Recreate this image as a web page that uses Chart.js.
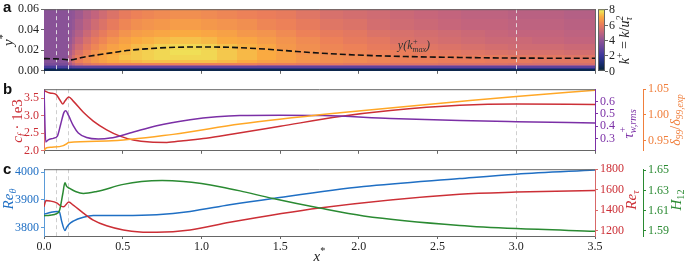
<!DOCTYPE html>
<html>
<head>
<meta charset="utf-8">
<script src="https://cdn.jsdelivr.net/npm/chart.js@4.4.1/dist/chart.umd.min.js"></script>
<style>
html, body { margin: 0; padding: 0; background: #fff; }
#wrap { position: relative; width: 685px; height: 263px; overflow: hidden; }
#wrap canvas { position: absolute; left: 0; }
.panel { position: absolute; left: 3px; font: bold 15px "Liberation Sans", Arial, sans-serif; color: #111; }
</style>
</head>
<body>
<div id="wrap">
  <canvas id="ca" width="685" height="80" style="top:0"></canvas>
  <canvas id="cb" width="685" height="80" style="top:80px"></canvas>
  <canvas id="cc" width="685" height="103" style="top:160px"></canvas>
  <div class="panel" style="top:-2px">a</div>
  <div class="panel" style="top:80px">b</div>
  <div class="panel" style="top:160px">c</div>
</div>
<script>
// ---- data ----
const xTicks = [0, 0.5, 1.0, 1.5, 2.0, 2.5, 3.0, 3.5];
const markers = [0.075, 0.155, 3.0];

// panel a: k+ field (cells), rows bottom -> top
const kxEdges = [0, 0.15, 0.175, 0.2, 0.25, 0.3, 0.35, 0.4, 0.475, 0.55, 0.625, 0.7, 0.8, 0.9, 1.0, 1.1,
                 1.225, 1.35, 1.475, 1.6, 1.75, 1.9, 2.05, 2.2, 2.35, 2.5, 2.65, 2.8, 2.95, 3.1, 3.3, 3.5];
const kyEdges = [0, 0.0015, 0.003, 0.0045, 0.006, 0.008, 0.011, 0.015, 0.02, 0.026, 0.033, 0.04, 0.05, 0.06];
const kField = [
  [0.4,0.4,0.4,0.4,0.4,0.4,0.4,0.4,0.4,0.4,0.4,0.4,0.4,0.4,0.4,0.4,0.4,0.4,0.4,0.4,0.4,0.4,0.4,0.4,0.4,0.4,0.4,0.4,0.4,0.4,0.4],
  [1.3,1.4,1.5,1.5,1.5,1.5,1.5,1.5,1.5,1.5,1.5,1.5,1.5,1.5,1.5,1.5,1.5,1.5,1.5,1.5,1.5,1.5,1.5,1.5,1.5,1.5,1.5,1.5,1.5,1.5,1.5],
  [2.3,2.5,2.7,2.8,2.8,2.8,2.8,2.8,2.8,2.8,2.8,2.8,2.8,2.8,2.8,2.8,2.8,2.8,2.8,2.8,2.8,2.8,2.8,2.8,2.8,2.8,2.8,2.8,2.8,2.8,2.8],
  [3.0,3.6,4.0,4.3,4.5,4.5,4.5,4.5,4.5,4.5,4.5,4.5,4.5,4.5,4.5,4.5,4.5,4.3,4.3,4.3,4.3,4.3,4.3,4.3,4.3,4.3,4.3,4.3,4.3,4.3,4.3],
  [3.4,4.4,5.0,5.4,5.7,5.9,6.0,6.1,6.1,6.1,6.1,6.1,6.1,6.1,6.1,6.1,6.1,6.0,6.0,5.9,5.9,5.8,5.8,5.7,5.7,5.6,5.6,5.6,5.5,5.5,5.5],
  [3.7,4.8,5.5,6.0,6.3,6.6,6.8,7.0,7.1,7.2,7.3,7.3,7.3,7.3,7.3,7.2,7.0,6.8,6.7,6.5,6.4,6.3,6.2,6.1,6.1,6.0,6.0,5.9,5.9,5.8,5.8],
  [3.8,4.7,5.4,5.9,6.3,6.6,6.9,7.1,7.3,7.4,7.5,7.6,7.6,7.6,7.6,7.4,7.2,7.0,6.8,6.6,6.4,6.3,6.2,6.1,6.0,6.0,5.9,5.9,5.8,5.8,5.7],
  [3.8,4.5,5.1,5.6,6.1,6.5,6.8,7.0,7.2,7.4,7.5,7.6,7.7,7.7,7.6,7.4,7.2,7.0,6.8,6.5,6.3,6.2,6.1,6.0,5.9,5.8,5.7,5.6,5.5,5.5,5.4],
  [3.8,4.3,4.8,5.3,5.8,6.2,6.5,6.8,7.0,7.2,7.3,7.5,7.6,7.6,7.5,7.3,7.1,6.9,6.6,6.4,6.2,6.1,5.9,5.8,5.7,5.6,5.5,5.4,5.3,5.3,5.2],
  [3.8,4.1,4.5,5.0,5.5,5.9,6.2,6.5,6.8,7.0,7.1,7.2,7.3,7.3,7.2,7.0,6.9,6.7,6.5,6.3,6.1,5.9,5.8,5.6,5.5,5.4,5.3,5.2,5.2,5.1,5.0],
  [3.8,4.0,4.3,4.7,5.2,5.6,5.9,6.2,6.5,6.7,6.8,6.9,7.0,7.0,6.9,6.8,6.6,6.5,6.3,6.1,5.9,5.8,5.6,5.5,5.4,5.3,5.2,5.1,5.0,5.0,4.9],
  [3.8,3.9,4.1,4.5,4.9,5.3,5.6,5.9,6.2,6.4,6.5,6.6,6.7,6.7,6.6,6.5,6.4,6.2,6.1,5.9,5.7,5.6,5.4,5.3,5.2,5.1,5.0,5.0,4.9,4.9,4.8],
  [3.8,3.9,4.0,4.3,4.7,5.0,5.3,5.6,5.9,6.1,6.2,6.3,6.4,6.4,6.3,6.2,6.1,6.0,5.9,5.7,5.5,5.4,5.3,5.2,5.1,5.0,4.9,4.9,4.8,4.8,4.7]
];
const kTicks = [0, 2, 4, 6, 8];
const yTicksA = [0, 0.02, 0.04, 0.06];
const kmaxX = [0, 0.04, 0.08, 0.12, 0.165, 0.25, 0.356, 0.45, 0.525, 0.65, 0.78, 0.99, 1.18, 1.4, 1.605, 1.8, 2.03, 2.3, 2.64, 3.0, 3.5];
const kmaxY = [0.0119, 0.0118, 0.0116, 0.0112, 0.0106, 0.0132, 0.0159, 0.018, 0.0197, 0.0214, 0.0226, 0.0232, 0.0229, 0.0212, 0.0188, 0.0168, 0.0151, 0.0139, 0.0130, 0.0124, 0.0122];

// panel b
const cfX = [0, 0.005, 0.038, 0.076, 0.10, 0.119, 0.133, 0.157, 0.186, 0.25, 0.313, 0.398, 0.483, 0.567, 0.673, 0.78, 0.885, 1.03, 1.2, 1.5, 1.88, 2.2, 2.64, 3.0, 3.5];
const cf  = [3.72, 3.71, 3.65, 3.61, 3.46, 3.34, 3.42, 3.54, 3.42, 3.10, 2.85, 2.60, 2.42, 2.31, 2.25, 2.24, 2.29, 2.36, 2.48, 2.70, 2.98, 3.15, 3.30, 3.34, 3.32];
const tauX = [0, 0.011, 0.027, 0.059, 0.085, 0.106, 0.127, 0.138, 0.155, 0.186, 0.218, 0.27, 0.345, 0.42, 0.546, 0.716, 0.928, 1.097, 1.245, 1.5, 1.77, 2.2, 2.64, 3.0, 3.5];
const tau  = [0.70, 0.272, 0.289, 0.301, 0.32, 0.416, 0.512, 0.525, 0.489, 0.404, 0.344, 0.308, 0.296, 0.303, 0.344, 0.404, 0.452, 0.476, 0.486, 0.488, 0.486, 0.462, 0.445, 0.436, 0.426];
const dX = [0, 0.017, 0.049, 0.123, 0.14, 0.157, 0.398, 0.82, 1.245, 1.88, 2.64, 3.0, 3.5];
const delta = [0.931, 0.936, 0.937, 0.940, 0.943, 0.946, 0.949, 0.962, 0.982, 1.004, 1.026, 1.036, 1.048];
const cfTicks = [2.0, 2.5, 3.0, 3.5];
const tauTicks = [0.3, 0.4, 0.5, 0.6];
const deltaTicks = [0.95, 1.00, 1.05];

// panel c
const rethX = [0, 0.038, 0.08, 0.097, 0.112, 0.133, 0.144, 0.157, 0.186, 0.25, 0.313, 0.504, 0.716, 0.928, 1.18, 1.455, 2.03, 2.64, 3.0, 3.5];
const reth  = [3848, 3854, 3858, 3857, 3823, 3789, 3800, 3811, 3823, 3837, 3843, 3843, 3846, 3858, 3882, 3905, 3948, 3977, 3993, 4008];
const retauX = [0, 0.013, 0.038, 0.08, 0.108, 0.125, 0.157, 0.186, 0.25, 0.313, 0.398, 0.504, 0.61, 0.716, 0.928, 1.18, 1.75, 2.64, 3.0, 3.5];
const retau  = [1435, 1496, 1491, 1472, 1441, 1435, 1481, 1450, 1373, 1305, 1249, 1209, 1190, 1187, 1209, 1283, 1422, 1556, 1577, 1593];
const h12X = [0, 0.038, 0.08, 0.10, 0.119, 0.133, 0.144, 0.163, 0.2, 0.25, 0.335, 0.504, 0.62, 0.75, 0.885, 1.0, 1.125, 1.245, 1.455, 1.75, 2.03, 2.64, 3.0, 3.5];
const h12  = [1.605, 1.6055, 1.607, 1.611, 1.6265, 1.6375, 1.634, 1.632, 1.629, 1.627, 1.629, 1.636, 1.6388, 1.6398, 1.6389, 1.6368, 1.6335, 1.6296, 1.622, 1.6126, 1.6048, 1.5954, 1.5923, 1.5897];
const rethTicks = [3800, 3850, 3900, 3950, 4000];
const retauTicks = [1200, 1400, 1600, 1800];
const h12Ticks = [1.59, 1.61, 1.63, 1.65];

// ---- styling ----
const SERIF = '"Liberation Serif", "DejaVu Serif", serif';
const RED = '#cc2f36', PURPLE = '#7b2fa6', ORANGE = '#ffa726', ORANGE_AX = '#f07f3c';
const BLUE = '#1f6fc4', GREEN = '#2a8a32', FRAME = '#666';

// thermal-like colour stops for k+ = 0..8
const cmap = [[4,35,51],[25,45,115],[60,55,155],[105,70,155],[145,85,150],[195,100,125],[235,125,90],[250,170,65],[235,245,95]];
function colorFor(v) {
  v = Math.max(0, Math.min(8, v));
  const i = Math.min(7, Math.floor(v)), f = v - i;
  const a = cmap[i], b = cmap[i + 1];
  return 'rgb(' + a.map((c, k) => Math.round(c + (b[k] - c) * f)).join(',') + ')';
}

const pts = (xs, ys) => xs.map((x, i) => ({x: x, y: ys[i]}));

function fixTicks(arr) { return s => { s.ticks = arr.map(v => ({value: v})); }; }

function xAxis(labels) {
  return {
    type: 'linear', min: 0, max: 3.5,
    afterBuildTicks: fixTicks(xTicks),
    afterFit: s => { s.height = labels ? 27 : 5; },
    grid: {drawOnChartArea: false, tickLength: 3, color: FRAME},
    border: {color: FRAME},
    ticks: {display: labels, color: '#222', padding: 1, font: {family: SERIF, size: 12},
            callback: v => v.toFixed(1), maxRotation: 0}
  };
}

function yAxis(pos, min, max, ticks, dec, col, spine, width, weight) {
  return {
    type: 'linear', position: pos, min: min, max: max, weight: weight || 0,
    afterBuildTicks: fixTicks(ticks),
    afterFit: s => { s.width = width; },
    grid: {drawOnChartArea: false, tickLength: 3, color: spine},
    border: {color: spine},
    ticks: {color: col, padding: 2, font: {family: SERIF, size: 12}, callback: v => v.toFixed(dec)}
  };
}

function line(xs, ys, color, axis, extra) {
  return Object.assign({data: pts(xs, ys), borderColor: color, borderWidth: 1.5, pointRadius: 0,
    cubicInterpolationMode: 'monotone', yAxisID: axis}, extra || {});
}

// rich text: parts of {t} or {sup, sub}, italic flag i
function rich(ctx, parts, x, y, rot, color, size) {
  ctx.save();
  ctx.translate(x, y);
  ctx.rotate(rot);
  ctx.fillStyle = color;
  ctx.textBaseline = 'middle';
  ctx.textAlign = 'left';
  const small = size * 0.68;
  const fnt = (it, s) => (it ? 'italic ' : '') + s + 'px ' + SERIF;
  let total = 0;
  const segs = parts.map(p => {
    let w = 0;
    if (p.t !== undefined) { ctx.font = fnt(p.i, size); w = ctx.measureText(p.t).width; }
    else {
      ctx.font = fnt(p.i, small);
      if (p.sup) w = Math.max(w, ctx.measureText(p.sup).width);
      if (p.sub) w = Math.max(w, ctx.measureText(p.sub).width);
    }
    total += w;
    return {p: p, w: w};
  });
  let cx = -total / 2;
  segs.forEach(s => {
    const p = s.p;
    if (p.t !== undefined) { ctx.font = fnt(p.i, size); ctx.fillText(p.t, cx, 0); }
    else {
      ctx.font = fnt(p.i, small);
      if (p.sup) ctx.fillText(p.sup, cx, -size * 0.35);
      if (p.sub) ctx.fillText(p.sub, cx, size * 0.3);
    }
    cx += s.w;
  });
  ctx.restore();
}

const UP = -Math.PI / 2;

// frame top line + dashed markers
const frameAndMarkers = {
  id: 'frameAndMarkers',
  beforeDatasetsDraw(chart, args, opts) {
    const {ctx, chartArea: a, scales: {x}} = chart;
    ctx.save();
    ctx.strokeStyle = opts.markerColor || '#cfcfcf';
    ctx.lineWidth = 1;
    ctx.setLineDash([4, 3]);
    markers.forEach(m => {
      const px = Math.round(x.getPixelForValue(m)) + 0.5;
      ctx.beginPath(); ctx.moveTo(px, a.top); ctx.lineTo(px, a.bottom); ctx.stroke();
    });
    ctx.restore();
  },
  afterDraw(chart) {
    const {ctx, chartArea: a} = chart;
    ctx.save();
    ctx.strokeStyle = FRAME; ctx.lineWidth = 1;
    ctx.beginPath(); ctx.moveTo(a.left, a.top + 0.5); ctx.lineTo(a.right, a.top + 0.5); ctx.stroke();
    ctx.restore();
  }
};

const heatmap = {
  id: 'heatmap',
  beforeDatasetsDraw(chart) {
    const {ctx, scales: {x, y}} = chart;
    ctx.save();
    kField.forEach((row, j) => {
      const y0 = Math.round(y.getPixelForValue(kyEdges[j]));
      const y1 = Math.round(y.getPixelForValue(kyEdges[j + 1]));
      row.forEach((v, i) => {
        const x0 = Math.round(x.getPixelForValue(kxEdges[i]));
        const x1 = Math.round(x.getPixelForValue(kxEdges[i + 1]));
        ctx.fillStyle = colorFor(v);
        ctx.fillRect(x0, y1, x1 - x0, y0 - y1);
      });
    });
    ctx.restore();
  },
  afterDraw(chart) {
    const {ctx, scales: {cbar}} = chart;
    const left = cbar.left + 3, w = 7;
    ctx.save();
    for (let p = Math.round(cbar.top); p < Math.round(cbar.bottom); p++) {
      ctx.fillStyle = colorFor(cbar.getValueForPixel(p + 0.5));
      ctx.fillRect(left, p, w, 1);
    }
    ctx.strokeStyle = FRAME; ctx.lineWidth = 1;
    ctx.strokeRect(left + 0.5, cbar.top + 0.5, w - 1, cbar.bottom - cbar.top - 1);
    ctx.fillStyle = '#222';
    ctx.font = '12px ' + SERIF;
    ctx.textBaseline = 'middle';
    kTicks.forEach(t => {
      const py = Math.round(cbar.getPixelForValue(t)) + 0.5;
      ctx.beginPath(); ctx.moveTo(left + w, py); ctx.lineTo(left + w + 3, py); ctx.stroke();
      ctx.fillText(String(t), left + w + 4, py);
    });
    rich(ctx, [{t: 'k', i: 1}, {sup: '+'}, {t: ' = '}, {t: 'k', i: 1}, {t: '/'}, {t: 'u', i: 1}, {sup: '2', sub: 'τ', i: 1}],
         cbar.left + 30, (cbar.top + cbar.bottom) / 2, UP, '#222', 14);
    rich(ctx, [{t: 'y', i: 1}, {sup: '*'}], 9, 40, UP, '#222', 15);
    rich(ctx, [{t: 'y(', i: 1}, {t: 'k', i: 1}, {sup: '+', sub: 'max', i: 1}, {t: ')', i: 1}],
         chart.scales.x.getPixelForValue(2.35), 46, 0, '#333', 12);
    ctx.restore();
  }
};

const titlesB = {
  id: 'titlesB',
  afterDraw(chart) {
    const {ctx, scales: {tau: t, del: d}} = chart;
    rich(ctx, [{t: 'c', i: 1}, {sub: 'f', i: 1}, {t: ' · 1e3'}], 18, 41, UP, RED, 15);
    rich(ctx, [{t: 'τ', i: 1}, {sup: '+', sub: 'w,rms', i: 1}], t.left + 34, 44, UP, PURPLE, 15);
    rich(ctx, [{t: 'δ', i: 1}, {sub: '99', i: 1}, {t: '/'}, {t: 'δ', i: 1}, {sub: '99,exp', i: 1}], d.left + 33, 40, UP, ORANGE_AX, 14);
  }
};

const titlesC = {
  id: 'titlesC',
  afterDraw(chart) {
    const {ctx, scales: {rt, h}} = chart;
    rich(ctx, [{t: 'Re', i: 1}, {sub: 'θ', i: 1}], 9, 39, UP, BLUE, 15);
    rich(ctx, [{t: 'Re', i: 1}, {sub: 'τ', i: 1}], rt.left + 37, 40, UP, RED, 15);
    rich(ctx, [{t: 'H', i: 1}, {sub: '12'}], h.left + 34, 40, UP, GREEN, 15);
    rich(ctx, [{t: 'x', i: 1}, {sup: '*'}], (chart.chartArea.left + chart.chartArea.right) / 2, 97, 0, '#222', 15);
  }
};

const base = {
  responsive: false, animation: false, devicePixelRatio: 1,
  layout: {padding: {top: 6, left: 0, right: 0, bottom: 0}},
  plugins: {legend: {display: false}, tooltip: {enabled: false}},
  elements: {line: {tension: 0}}
};

new Chart(document.getElementById('ca'), {
  type: 'line',
  data: {datasets: [line(kmaxX, kmaxY, '#111', 'y', {borderDash: [6, 3], borderWidth: 1.6})]},
  options: Object.assign({}, base, {
    plugins: Object.assign({}, base.plugins, {frameAndMarkers: {markerColor: 'rgba(235,235,235,0.85)'}}),
    scales: {
      x: xAxis(false),
      y: yAxis('left', 0, 0.06, yTicksA, 2, '#222', FRAME, 44),
      cbar: {type: 'linear', position: 'right', min: 0, max: 8,
             afterFit: s => { s.width = 90; },
             grid: {display: false}, ticks: {display: false}, border: {display: true, color: FRAME}}
    }
  }),
  plugins: [heatmap, frameAndMarkers]
});

new Chart(document.getElementById('cb'), {
  type: 'line',
  data: {datasets: [
    line(dX, delta, ORANGE, 'del'),
    line(tauX, tau, PURPLE, 'tau'),
    line(cfX, cf, RED, 'y')
  ]},
  options: Object.assign({}, base, {
    scales: {
      x: xAxis(false),
      y: yAxis('left', 2.0, 3.76, cfTicks, 1, RED, '#e07070', 44),
      tau: yAxis('right', 0.2, 0.7, tauTicks, 1, PURPLE, PURPLE, 48, 0),
      del: yAxis('right', 0.93, 1.05, deltaTicks, 2, ORANGE_AX, ORANGE_AX, 42, 1)
    }
  }),
  plugins: [frameAndMarkers, titlesB]
});

new Chart(document.getElementById('cc'), {
  type: 'line',
  data: {datasets: [
    line(h12X, h12, GREEN, 'h'),
    line(retauX, retau, RED, 'rt'),
    line(rethX, reth, BLUE, 'y')
  ]},
  options: Object.assign({}, base, {
    scales: {
      x: xAxis(true),
      y: yAxis('left', 3769, 4011, rethTicks, 0, BLUE, '#5b9bd8', 44),
      rt: yAxis('right', 1150, 1800, retauTicks, 0, RED, '#d86868', 48, 0),
      h: yAxis('right', 1.585, 1.651, h12Ticks, 2, GREEN, GREEN, 42, 1)
    }
  }),
  plugins: [frameAndMarkers, titlesC]
});
</script>
</body>
</html>
